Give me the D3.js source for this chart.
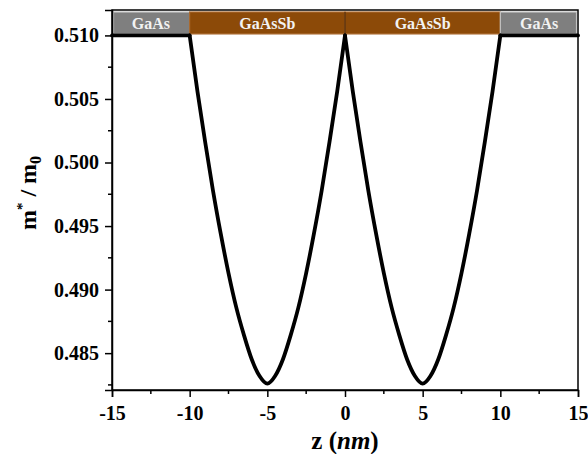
<!DOCTYPE html>
<html>
<head>
<meta charset="utf-8">
<script src="https://cdn.jsdelivr.net/npm/d3@7"></script>
<style>
  body { margin: 0; background: #fff; }
  text { font-family: "Liberation Serif", "Times New Roman", serif; font-weight: bold; }
</style>
</head>
<body>
<div id="chart"></div>
<script>
// layer stack along z
var layerNames = ["GaAs", "GaAsSb", "GaAsSb", "GaAs"];
var layerEdges = [-15, -10, 0, 10, 15];

// effective mass profile
var zValues = [-15, -10, -9.5, -9, -8.5, -8, -7.5, -7, -6.5, -6, -5.5, -5, -4.5, -4, -3.5, -3, -2.5, -2, -1.5, -1, -0.5, 0,
  0.5, 1, 1.5, 2, 2.5, 3, 3.5, 4, 4.5, 5, 5.5, 6, 6.5, 7, 7.5, 8, 8.5, 9, 9.5, 10, 15];
var mValues = [0.5100, 0.5100, 0.5056, 0.5016, 0.4978, 0.4944, 0.4913, 0.4886, 0.4864, 0.4845, 0.4832, 0.4826, 0.4832, 0.4845, 0.4864, 0.4886, 0.4913, 0.4944, 0.4978, 0.5016, 0.5056, 0.5100,
  0.5056, 0.5016, 0.4978, 0.4944, 0.4913, 0.4886, 0.4864, 0.4845, 0.4832, 0.4826, 0.4832, 0.4845, 0.4864, 0.4886, 0.4913, 0.4944, 0.4978, 0.5016, 0.5056, 0.5100, 0.5100];

var xTicks = [-15, -10, -5, 0, 5, 10, 15];
var yTicks = [0.485, 0.490, 0.495, 0.500, 0.505, 0.510];

var margin = { top: 10, left: 112, right: 10, bottom: 64 },
    width = 588 - margin.left - margin.right,
    height = 454 - margin.top - margin.bottom;

var svg = d3.select("#chart")
  .append("svg")
  .attr("width", 588)
  .attr("height", 454)
  .append("g")
  .attr("transform", "translate(" + margin.left + "," + margin.top + ")");

var x = d3.scaleLinear().domain([-15, 15]).range([0, width]);
var y = d3.scaleLinear().domain([0.4821, 0.512]).range([height, 0]);

var points = zValues.map(function(z, i) { return { z: z, m: mValues[i] } });

// layer bars across the top
var barTop = 2, barBottom = y(0.510) - 1.5;
var bars = svg.selectAll(".layer")
  .data(layerNames)
  .enter().append("g")
  .attr("class", "layer");

bars.append("rect")
  .attr("x", function(d, i) { return x(layerEdges[i]) + (i == 0 ? 1.5 : 0) })
  .attr("y", barTop)
  .attr("width", function(d, i) { return x(layerEdges[i + 1]) - x(layerEdges[i]) - (i == 0 || i == 3 ? 1.5 : 0) })
  .attr("height", barBottom - barTop)
  .attr("fill", function(d) { return d == "GaAs" ? "#7f7f7f" : "#8c4a08" })
  .attr("stroke", function(d) { return d == "GaAs" ? "#c4c4c4" : "#a8662a" })
  .attr("stroke-width", 1.2);

bars.append("text")
  .attr("x", function(d, i) { return (x(layerEdges[i]) + x(layerEdges[i + 1])) / 2 })
  .attr("y", barBottom - 5)
  .attr("text-anchor", "middle")
  .attr("fill", "#f2f2f2")
  .style("font-size", "16px")
  .text(function(d) { return d });

// thin divider between the two wells
svg.append("line")
  .attr("x1", x(0)).attr("x2", x(0))
  .attr("y1", barTop).attr("y2", barBottom)
  .attr("stroke", "#3a1c00")
  .attr("stroke-width", 1);

// mass curve, drawn piece by piece so the cusps stay sharp
var line = d3.line()
  .x(function(d) { return x(d.z) })
  .y(function(d) { return y(d.m) })
  .curve(d3.curveMonotoneX);

for (var k = 0; k < layerEdges.length - 1; k++) {
  var a = layerEdges[k], b = layerEdges[k + 1];
  var piece = points.filter(function(d) { return d.z >= a && d.z <= b });
  svg.append("path")
    .datum(piece)
    .attr("d", line)
    .attr("fill", "none")
    .attr("stroke", "#000")
    .attr("stroke-width", 3.8)
    .attr("stroke-linecap", "round")
    .attr("stroke-linejoin", "round");
}

// frame
svg.append("rect")
  .attr("x", 0).attr("y", 0)
  .attr("width", width).attr("height", height)
  .attr("fill", "none")
  .attr("stroke", "#000")
  .attr("stroke-width", 1.5);

// x axis
var xAxis = svg.append("g")
  .attr("transform", "translate(0," + height + ")")
  .call(d3.axisBottom(x).tickValues(xTicks).tickFormat(function(d) { return String(d) }).tickSize(7).tickPadding(9));
xAxis.append("g").selectAll("line")
  .data(d3.range(-12.5, 15, 5))
  .enter().append("line")
  .attr("x1", function(d) { return x(d) }).attr("x2", function(d) { return x(d) })
  .attr("y1", 0).attr("y2", 4)
  .attr("stroke", "#000").attr("stroke-width", 1.5);

// y axis
var yAxis = svg.append("g")
  .call(d3.axisLeft(y).tickValues(yTicks).tickFormat(d3.format(".3f")).tickSize(7).tickPadding(6));
yAxis.append("g").selectAll("line")
  .data([0.4825, 0.4875, 0.4925, 0.4975, 0.5025, 0.5075])
  .enter().append("line")
  .attr("x1", 0).attr("x2", -4)
  .attr("y1", function(d) { return y(d) }).attr("y2", function(d) { return y(d) })
  .attr("stroke", "#000").attr("stroke-width", 1.5);

[xAxis, yAxis].forEach(function(ax) {
  ax.select(".domain").attr("stroke-width", 1.5);
  ax.selectAll(".tick line").attr("stroke-width", 1.5);
  ax.selectAll(".tick text")
    .style("font-family", "'Liberation Serif', serif")
    .style("font-weight", "bold")
    .style("font-size", "20px")
    .attr("fill", "#000");
});

// axis titles
var xTitle = svg.append("text")
  .attr("x", x(0))
  .attr("y", height + 59)
  .attr("text-anchor", "middle")
  .style("font-size", "25px");
xTitle.append("tspan").text("z (");
xTitle.append("tspan").style("font-style", "italic").text("nm");
xTitle.append("tspan").text(")");

var yTitle = svg.append("text")
  .attr("transform", "translate(" + (-76) + "," + (y(0.4976)) + ") rotate(-90)")
  .attr("text-anchor", "middle")
  .style("font-size", "24px");
yTitle.append("tspan").text("m");
yTitle.append("tspan").attr("dy", -9).style("font-size", "15px").text("*");
yTitle.append("tspan").attr("dy", 9).text(" / m");
yTitle.append("tspan").attr("dy", 5).style("font-size", "16px").text("0");
</script>
</body>
</html>
